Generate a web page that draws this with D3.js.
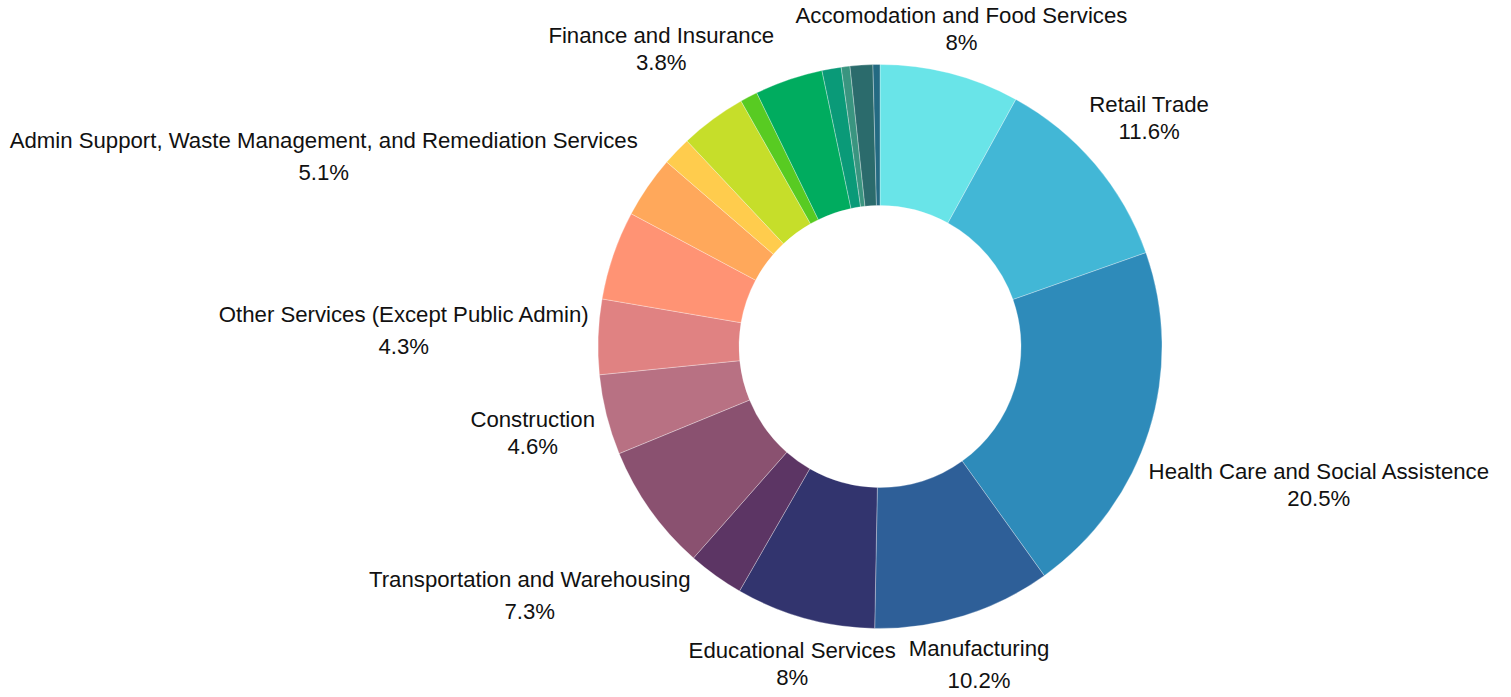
<!DOCTYPE html>
<html lang="en">
<head>
<meta charset="utf-8">
<title>Industries donut</title>
<script src="https://cdn.jsdelivr.net/npm/d3@7"></script>
<style>
  body { margin: 0; background: #fff; }
  text { font-family: "Liberation Sans", Arial, sans-serif; fill: #111; }
</style>
</head>
<body>
<script>
// data, clockwise from 12 o'clock
var categories = [
  "Accomodation and Food Services",
  "Retail Trade",
  "Health Care and Social Assistence",
  "Manufacturing",
  "Educational Services",
  "Wholesale Trade",
  "Transportation and Warehousing",
  "Construction",
  "Other Services (Except Public Admin)",
  "Admin Support, Waste Management, and Remediation Services",
  "Professional, Scientific, and Technical Services",
  "Real Estate",
  "Finance and Insurance",
  "Information",
  "Public Administration",
  "Arts, Entertainment, and Recreation",
  "Agriculture",
  "Utilities",
  "Mining"
];
var values = [8, 11.6, 20.5, 10.2, 8, 3.2, 7.3, 4.6, 4.3, 5.1, 3.55, 1.65, 3.8, 1.0, 3.9, 1.1, 0.5, 1.3, 0.4];
var colors = ["#69e4e8", "#42b7d6", "#2e8bba", "#2e5f98", "#32346e", "#5c3564", "#8a5170", "#b87183",
              "#e08282", "#ff9374", "#ffa85b", "#ffcc4d", "#c6de2a", "#58cb22", "#00ac5f", "#0a9a78",
              "#3a9580", "#2b6b6c", "#236a82"];
var labelled = ["Accomodation and Food Services", "Retail Trade", "Health Care and Social Assistence",
                "Manufacturing", "Educational Services", "Transportation and Warehousing", "Construction",
                "Other Services (Except Public Admin)", "Admin Support, Waste Management, and Remediation Services",
                "Finance and Insurance"];
var wideLines = ["Manufacturing", "Transportation and Warehousing", "Other Services (Except Public Admin)",
                 "Admin Support, Waste Management, and Remediation Services"];

var w = 1511, h = 697;
var cx = 880, cy = 346.5;
var R = 282, r = 141;

var svg = d3.select("body").append("svg")
    .attr("width", w)
    .attr("height", h);

var rows = categories.map(function(c, i) { return {name: c, value: values[i], color: colors[i]}; });

var pie = d3.pie().sort(null).value(function(d) { return d.value; });
var arc = d3.arc().innerRadius(r).outerRadius(R);
var arcs = pie(rows);

var g = svg.append("g").attr("transform", "translate(" + cx + "," + cy + ")");

g.selectAll("path")
  .data(arcs)
  .enter()
  .append("path")
    .attr("d", arc)
    .attr("fill", function(d) { return d.data.color; })
    .attr("stroke", "rgba(255,255,255,0.5)")
    .attr("stroke-width", 0.6);

// labels: pushed out along the mid angle until the box clears the ring
var gap = R + 9;
arcs.filter(function(d) { return labelled.indexOf(d.data.name) >= 0; }).forEach(function(d) {
  var t = g.append("text")
      .attr("text-anchor", "middle")
      .attr("font-size", "22.2px");
  var lh = wideLines.indexOf(d.data.name) >= 0 ? 32 : 27;
  t.append("tspan").attr("x", 0).attr("y", 0).text(d.data.name);
  t.append("tspan").attr("x", 0).attr("y", lh).text(d.data.value + "%");

  var bb = t.node().getBBox();
  var hw = bb.width / 2, hh = bb.height / 2;
  var ox = bb.x + hw, oy = bb.y + hh; // box centre relative to text origin
  var a = (d.startAngle + d.endAngle) / 2;
  var ux = Math.sin(a), uy = -Math.cos(a);
  var dist = 0;
  while (dist < 2000) {
    var px = ux * dist, py = uy * dist;
    var ex = Math.max(Math.abs(px) - hw, 0), ey = Math.max(Math.abs(py) - hh, 0);
    if (Math.sqrt(ex * ex + ey * ey) >= gap) break;
    dist += 0.5;
  }
  t.attr("transform", "translate(" + (ux * dist - ox) + "," + (uy * dist - oy) + ")");
});
</script>
</body>
</html>
